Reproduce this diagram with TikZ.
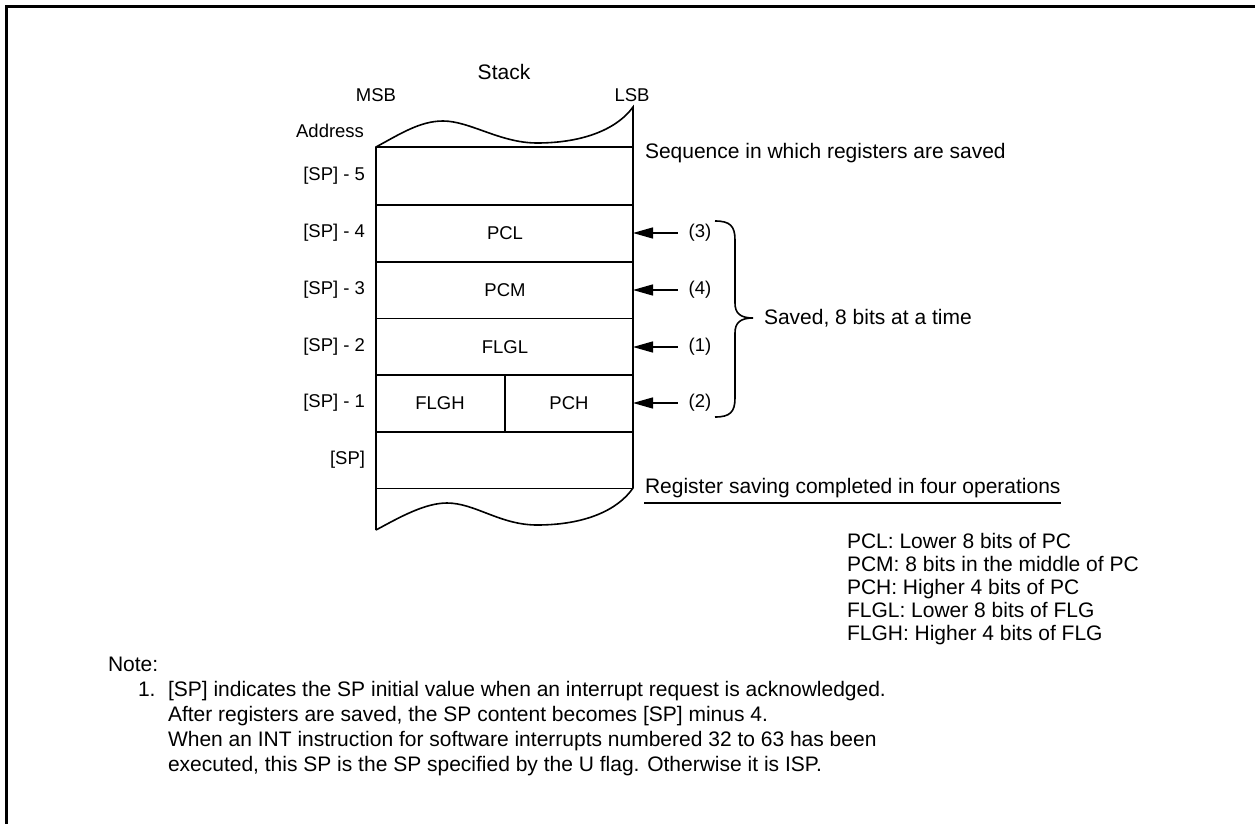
\documentclass[tikz,border=0pt]{standalone}
\usepackage{fontspec}
\setmainfont{Liberation Sans}
\usetikzlibrary{arrows.meta}
\begin{document}
\begin{tikzpicture}[x=1pt,y=-1pt,
  every node/.style={inner sep=0pt,outer sep=0pt},
  big/.style={font=\fontsize{21}{25}\selectfont},
  sm/.style={font=\fontsize{18.5}{22}\selectfont},
  boxline/.style={line width=1.6pt},
  arr/.style={line width=1.5pt,-{Triangle[length=20pt,width=11pt]}},
  lbl/.style={sm,anchor=east},
  cell/.style={sm}
]
\useasboundingbox (0,0) rectangle (1255,824);
% frame
\draw[line width=3pt] (6,824) -- (6,7) -- (1255,7);

% stack box
\coordinate (R) at (633,0);
\draw[boxline] (376,530) -- (376,147)
  .. controls (400,134) and (420,121) .. (443,121)
  .. controls (470,121) and (500,143) .. (537,143)
  .. controls (585,143) and (618,128) .. (633,107)
  -- (633,488)
  .. controls (618,510) and (585,525) .. (537,525)
  .. controls (500,525) and (475,503) .. (447,503)
  .. controls (425,503) and (400,517) .. (376,530);
\foreach \y in {147,204.7,261.7,318.3,375,431.7,488.3}
  \draw[boxline] (376,\y) -- (633,\y);
\draw[boxline] (505,375) -- (505,431.7);

% header labels
\node[big,anchor=base] (stack) at (504,80) {Stack};
\node[sm,anchor=base] (msb) at (376,101.5) {MSB};
\node[sm,anchor=base] (lsb) at (632,101.5) {LSB};
\node[sm,anchor=base east] (addr) at (364,138) {Address};

% address labels
\node[lbl] (a5) at (365,176) {[SP] - 5};
\node[lbl] (a4) at (365,233) {[SP] - 4};
\node[lbl] (a3) at (365,290) {[SP] - 3};
\node[lbl] (a2) at (365,347) {[SP] - 2};
\node[lbl] (a1) at (365,403) {[SP] - 1};
\node[lbl] (a0) at (365,460) {[SP]};

% cell contents
\node[cell] (pcl) at (505,233) {PCL};
\node[cell] (pcm) at (505,290) {PCM};
\node[cell] (flgl) at (505,347) {FLGL};
\node[cell] (flgh) at (440,403) {FLGH};
\node[cell] (pch) at (569,403) {PCH};

% order labels and arrows
\node[sm] (o3) at (700,233) {(3)};
\node[sm] (o4) at (700,290) {(4)};
\node[sm] (o1) at (700,347) {(1)};
\node[sm] (o2) at (700,403) {(2)};
\foreach \n in {o3,o4,o1,o2}
  \draw[arr] ([xshift=-11pt]\n.west) -- (\n -| R);

% brace
\draw[line width=1.6pt] (715,221) .. controls (730,221) and (735,226) .. (735,240)
  -- (735,303) .. controls (735,313) and (740,318) .. (753,318)
  .. controls (740,318) and (735,323) .. (735,333)
  -- (735,398) .. controls (735,412) and (730,417) .. (715,417);
\node[big,anchor=west] (saved) at (764,318) {Saved, 8 bits at a time};

% right-side notes
\node[big,anchor=base west] (seq) at (645,158) {Sequence in which registers are saved};
\node[big,anchor=base west] (done) at (645,493) {Register saving completed in four operations};
\coordinate (u1) at (644,503);
\draw[line width=1.3pt] (u1) -- (u1 -| done.east);

% legend
\node[anchor=north west,align=left,font=\fontsize{21}{23}\selectfont] (legend) at (847,533)
  {PCL: Lower 8 bits of PC\\PCM: 8 bits in the middle of PC\\PCH: Higher 4 bits of PC\\FLGL: Lower 8 bits of FLG\\FLGH: Higher 4 bits of FLG};

% note
\node[big,anchor=base west] (note) at (108,671) {Note:};
\node[big,anchor=base west] (n1) at (138,696) {1.};
\node[big,anchor=base west] (t1) at (168,696) {[SP] indicates the SP initial value when an interrupt request is acknowledged.};
\node[big,anchor=base west] (t2) at (168,721) {After registers are saved, the SP content becomes [SP] minus 4.};
\node[big,anchor=base west] (t3) at (168,746) {When an INT instruction for software interrupts numbered 32 to 63 has been};
\node[big,anchor=base west] (t4) at (168,771) {executed, this SP is the SP specified by the U flag. Otherwise it is ISP.};
\end{tikzpicture}
\end{document}
